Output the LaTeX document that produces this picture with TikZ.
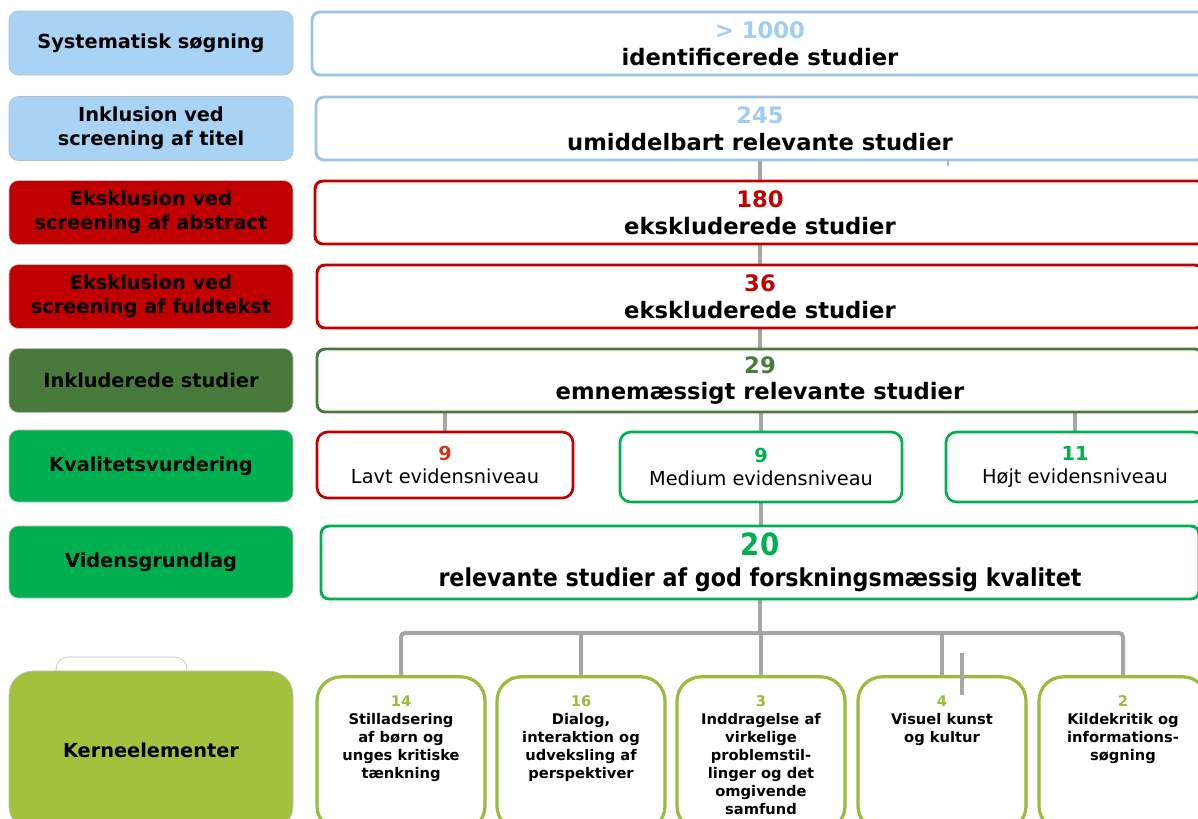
\documentclass[tikz,border=0pt]{standalone}
\usepackage{fontspec}
\setmainfont{DejaVu Sans}
\newfontfamily\condfont{DejaVu Sans Condensed}
\usepackage{xcolor}
\usepackage{tikz}
\usetikzlibrary{backgrounds}

\definecolor{skyfill}{RGB}{169,211,245}
\definecolor{skyline}{RGB}{157,195,230}
\definecolor{skynum}{RGB}{160,205,242}
\definecolor{exred}{RGB}{192,0,0}
\definecolor{lavnum}{RGB}{200,60,30}
\definecolor{ingreen}{RGB}{72,122,60}
\definecolor{qgreen}{RGB}{0,176,80}
\definecolor{kfill}{RGB}{162,193,60}
\definecolor{kgreen}{RGB}{155,187,59}
\definecolor{phaseline}{RGB}{190,190,190}
\definecolor{linkgray}{RGB}{166,166,166}

\tikzset{
  phase/.style={rounded corners=7pt, draw=phaseline, line width=0.5pt,
    minimum width=213pt, minimum height=48pt, align=center,
    font=\bfseries\fontsize{14.5}{18}\selectfont},
  result/.style={rounded corners=6pt, fill=white, line width=2.2pt,
    minimum height=47.25pt, align=center,
    font=\bfseries\fontsize{17}{20}\selectfont},
  level/.style={rounded corners=8pt, fill=white, line width=2pt, align=center,
    font=\fontsize{14.5}{17}\selectfont},
  element/.style={rounded corners=18pt, fill=white, draw=kgreen, line width=2.4pt,
    minimum width=126pt, minimum height=115pt},
  elementtext/.style={anchor=north, inner sep=0pt, align=center,
    font=\bfseries\fontsize{11}{13.5}\selectfont},
  link/.style={draw=linkgray, line width=3pt},
}

\begin{document}
\begin{tikzpicture}[x=0.75pt, y=-0.75pt]
    \useasboundingbox (0,0) rectangle (1198,818);
    \clip (0,0) rectangle (1198,818);
    % phases
    \node[phase, fill=skyfill] (p1) at (151,43) {Systematisk søgning};
    \node[phase, fill=skyfill] (p2) at (151,128.5) {Inklusion ved\\screening af titel};
    \node[phase, fill=exred] (p3) at (151,212.5) {Eksklusion ved\\screening af abstract};
    \node[phase, fill=exred] (p4) at (151,296.5) {Eksklusion ved\\screening af fuldtekst};
    \node[phase, fill=ingreen] (p5) at (151,380.5) {Inkluderede studier};
    \node[phase, fill=qgreen, minimum height=54pt] (p6) at (151,466) {Kvalitetsvurdering};
    \node[phase, fill=qgreen, minimum height=54pt] (p7) at (151,562) {Vidensgrundlag};
    \draw[draw=phaseline, fill=white, rounded corners=9pt] (56,700) -- (56,657) -- (187,657) -- (187,700);
    \node[phase, fill=kfill, minimum height=119.25pt, rounded corners=18pt] (p8) at (151,750.5) {Kerneelementer};
    % results
    \node[result, draw=skyline, minimum width=672pt] (r1) at (760,43.5) {\textcolor{skynum}{> 1000}\\identificerede studier};
    \node[result, draw=skyline, minimum width=666pt] (r2) at (760,128.5) {\textcolor{skynum}{245}\\umiddelbart relevante studier};
    \node[result, draw=exred, minimum width=667.5pt] (r3) at (760,212.5) {\textcolor{exred}{180}\\ekskluderede studier};
    \node[result, draw=exred, minimum width=664.5pt] (r4) at (760,296.5) {\textcolor{exred}{36}\\ekskluderede studier};
    \node[result, draw=ingreen, minimum width=664.5pt] (r5) at (760,380.5) {\textcolor{ingreen}{29}\\emnemæssigt relevante studier};
    % evidence levels
    \node[level, draw=exred, minimum width=192pt, minimum height=49.5pt] (lav) at (445,465) {\textbf{\textcolor{lavnum}{9}}\\Lavt evidensniveau};
    \node[level, draw=qgreen, minimum width=211.5pt, minimum height=52.5pt] (med) at (761,467) {\textbf{\textcolor{qgreen}{9}}\\Medium evidensniveau};
    \node[level, draw=qgreen, minimum width=193.5pt, minimum height=52.5pt] (hoj) at (1075,467) {\textbf{\textcolor{qgreen}{11}}\\Højt evidensniveau};
    \node[result, draw=qgreen, minimum width=658.5pt, minimum height=54.75pt,
      font=\condfont\bfseries\fontsize{18.5}{23}\selectfont] (r6) at (760,562.5)
      {{\fontsize{23}{23}\selectfont\textcolor{qgreen}{20}}\\relevante studier af god forskningsmæssig kvalitet};
    % core elements
    \node[element] (k1) at (401,753.5) {};
    \node[element] (k2) at (581,753.5) {};
    \node[element] (k3) at (761,753.5) {};
    \node[element] (k4) at (942,753.5) {};
    \node[element] (k5) at (1123,753.5) {};
    \node[elementtext] at ([yshift=-15pt]k1.north) {\textcolor{kgreen}{14}\\Stilladsering\\af børn og\\unges kritiske\\tænkning};
    \node[elementtext] at ([yshift=-15pt]k2.north) {\textcolor{kgreen}{16}\\Dialog,\\interaktion og\\udveksling af\\perspektiver};
    \node[elementtext] at ([yshift=-15pt]k3.north) {\textcolor{kgreen}{3}\\Inddragelse af\\virkelige\\problemstil-\\linger og det\\omgivende\\samfund};
    \node[elementtext] at ([yshift=-15pt]k4.north) {\textcolor{kgreen}{4}\\Visuel kunst\\og kultur};
    \node[elementtext] at ([yshift=-15pt]k5.north) {\textcolor{kgreen}{2}\\Kildekritik og\\informations-\\søgning};
    % links
    \begin{scope}[on background layer]
        \draw[link] (r2.south) -- (r3.north);
        \draw[link] (r3.south) -- (r4.north);
        \draw[link] (r4.south) -- (r5.north);
        \draw[link] (lav.north |- r5.south) -- (lav.north);
        \draw[link] (med.north |- r5.south) -- (med.north);
        \draw[link] (hoj.north |- r5.south) -- (hoj.north);
        \draw[link] (med.south) -- (med.south |- r6.north);
        \coordinate (bar) at (0,633);
        \draw[link] (r6.south) -- (r6.south |- bar);
        \draw[link, rounded corners=3pt] (k1.north) -- (k1.north |- bar) -- (k5.north |- bar) -- (k5.north);
        \draw[link] (k2.north |- bar) -- (k2.north);
        \draw[link] (k3.north |- bar) -- (k3.north);
        \draw[link] (k4.north |- bar) -- (k4.north);
    \end{scope}
    \draw[link] (962,653) -- (962,695);
    \draw[skyline, line width=1pt] (948,160) -- (948,166);
\end{tikzpicture}
\end{document}
